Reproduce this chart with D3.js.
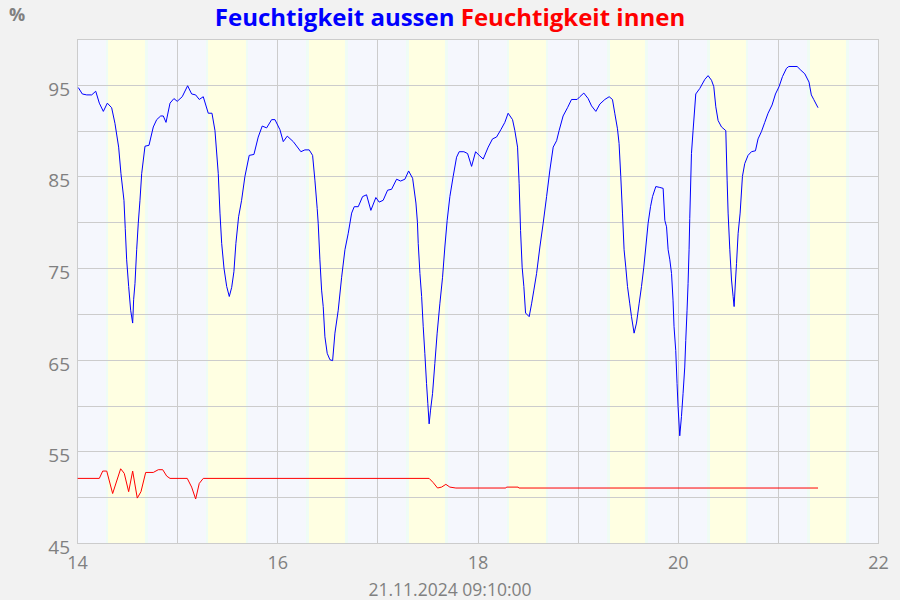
<!DOCTYPE html>
<html><head><meta charset="utf-8">
<script src="https://cdn.jsdelivr.net/npm/d3@7/dist/d3.min.js"></script>
<style>body{margin:0;background:#f2f2f2}svg{display:block}</style>
</head><body><svg id="c" width="900" height="600"></svg>
<script>
// ---- data (day of month as decimal, humidity %) ----
const outT = [14.013,14.053,14.097,14.147,14.187,14.223,14.263,14.303,14.346,14.379,14.416,14.439,14.469,14.482,14.496,14.516,14.536,14.556,14.566,14.579,14.596,14.612,14.629,14.646,14.679,14.719,14.762,14.796,14.836,14.862,14.889,14.929,14.968,15.001,15.051,15.105,15.145,15.185,15.221,15.261,15.311,15.348,15.378,15.411,15.428,15.445,15.468,15.495,15.521,15.545,15.567,15.587,15.614,15.644,15.677,15.720,15.767,15.810,15.850,15.894,15.944,15.977,16.027,16.060,16.100,16.160,16.236,16.276,16.319,16.353,16.376,16.399,16.409,16.426,16.443,16.459,16.476,16.499,16.526,16.553,16.576,16.609,16.643,16.676,16.709,16.743,16.769,16.809,16.852,16.892,16.935,16.985,17.018,17.058,17.102,17.142,17.192,17.232,17.275,17.312,17.352,17.385,17.400,17.408,17.425,17.442,17.458,17.474,17.491,17.504,17.517,17.531,17.551,17.574,17.597,17.624,17.651,17.674,17.697,17.724,17.757,17.791,17.817,17.864,17.901,17.941,17.981,18.017,18.057,18.107,18.150,18.190,18.233,18.273,18.306,18.350,18.373,18.400,18.416,18.430,18.446,18.463,18.480,18.516,18.540,18.563,18.590,18.623,18.656,18.690,18.723,18.756,18.790,18.815,18.855,18.899,18.939,18.995,19.022,19.062,19.105,19.139,19.182,19.222,19.272,19.315,19.348,19.371,19.398,19.414,19.431,19.448,19.464,19.481,19.498,19.521,19.538,19.564,19.588,19.614,19.638,19.661,19.681,19.704,19.728,19.748,19.781,19.821,19.854,19.871,19.888,19.904,19.921,19.938,19.953,19.963,19.980,19.993,20.003,20.020,20.037,20.053,20.070,20.080,20.093,20.103,20.113,20.120,20.137,20.153,20.180,20.220,20.271,20.303,20.337,20.360,20.380,20.403,20.437,20.480,20.493,20.503,20.520,20.537,20.553,20.563,20.577,20.587,20.603,20.623,20.646,20.669,20.702,20.736,20.776,20.802,20.836,20.869,20.902,20.942,20.976,21.012,21.046,21.086,21.109,21.192,21.229,21.269,21.311,21.334,21.358,21.401];
const outH = [94.7,94.0,93.9,93.9,94.3,93.0,92.1,93.0,92.5,90.8,88.2,85.3,82.4,79.3,75.9,73.0,70.4,69.0,71.6,73.3,77.0,79.9,82.4,85.3,88.3,88.4,90.4,91.2,91.6,91.6,90.9,93.0,93.5,93.2,93.7,94.9,94.0,93.9,93.4,93.7,91.9,91.9,90.0,85.3,81.0,77.7,75.0,73.0,71.9,72.9,74.6,77.7,80.6,82.4,85.0,87.3,87.4,89.3,90.5,90.3,91.2,91.2,90.1,88.8,89.4,88.8,87.7,87.9,87.9,87.3,84.6,81.5,79.9,75.9,72.6,70.8,67.5,65.7,65.0,64.9,67.9,70.4,74.0,77.0,78.8,81.0,81.7,81.7,82.8,83.0,81.3,82.7,82.2,82.4,83.5,83.6,84.7,84.5,84.7,85.6,84.8,82.1,80.0,77.7,74.4,71.9,68.6,65.7,62.4,60.2,58.0,59.5,61.3,64.6,67.9,71.1,74.0,77.3,80.2,82.8,85.0,87.1,87.7,87.7,87.5,86.1,87.7,87.3,86.9,88.2,89.1,89.3,90.1,90.9,91.9,91.2,90.0,88.2,84.2,79.1,75.1,73.0,70.1,69.7,71.1,72.6,74.4,77.3,79.9,82.8,85.7,88.2,88.9,90.0,91.6,92.5,93.4,93.4,93.7,94.1,93.5,92.7,92.1,92.9,93.4,93.7,93.4,91.9,90.2,88.6,85.0,81.0,77.0,75.1,73.0,71.1,69.7,67.9,69.0,71.1,73.0,75.1,77.3,79.9,81.7,82.8,83.9,83.8,83.7,80.2,79.5,77.0,75.9,74.4,71.5,68.6,66.0,62.4,59.9,56.7,58.8,61.3,64.2,67.1,70.4,73.3,77.0,80.4,87.5,90.0,94.0,94.6,95.6,96.0,95.5,94.8,92.6,91.1,90.4,90.0,84.6,81.0,77.0,73.7,71.9,70.8,73.7,75.5,78.8,81.0,85.0,86.4,87.3,87.7,87.8,89.1,89.9,90.9,91.9,92.8,94.0,94.8,95.9,96.8,97.0,97.0,96.6,96.2,95.3,93.9,93.4,92.5];
const inT = [14.007,14.223,14.257,14.297,14.356,14.436,14.472,14.516,14.556,14.602,14.639,14.686,14.762,14.812,14.856,14.896,14.929,15.101,15.145,15.185,15.221,15.261,17.517,17.557,17.601,17.641,17.684,17.724,17.784,18.283,18.290,18.406,18.413,21.401];
const inH = [52.05,52.05,52.85,52.85,50.4,53.1,52.6,50.6,52.85,49.9,50.6,52.7,52.7,53.0,53.0,52.3,52.05,52.05,51.1,49.8,51.5,52.05,52.05,51.6,51.0,51.1,51.4,51.1,51.0,51.0,51.1,51.1,51.0,51.0];
const sunrise = [14.31,15.31,16.315,17.315,18.315,19.32,20.32,21.32];
const sunset  = [14.683,15.683,16.68,17.68,18.68,19.675,20.68,21.683];
const dayGrid = [14,15,16,17,18,19,20,21,22];
const xTicks = [14,16,18,20,22];
const yGrid = [50,55,60,65,70,75,80,85,90,95];
const yTicks = [45,55,65,75,85,95];
const titles = ["Feuchtigkeit aussen","Feuchtigkeit innen"];
const seriesColors = ["#0000ff","#ff0000"];
const unitLabel = "%";
const dateLabel = "21.11.2024 09:10:00";

// ---- chart ----
const svg = d3.select("#c");
const L=77, R=878, T=39, B=543;
const x = d3.scaleLinear().domain([14,22]).range([L,R]);
const y = d3.scaleLinear().domain([45,100]).range([B,T]);

svg.append("rect").attr("x",L).attr("y",T).attr("width",R-L).attr("height",B-T).attr("fill","#f5f7fd");
const tw = 0.025;
const bands = svg.append("g").attr("shape-rendering","crispEdges");
sunrise.forEach((s,i)=>{
  const e = sunset[i];
  bands.append("rect").attr("x",x(s-tw)).attr("y",T).attr("width",x(e+tw)-x(s-tw)).attr("height",B-T).attr("fill","#effcf5");
  bands.append("rect").attr("x",x(s)).attr("y",T).attr("width",x(e)-x(s)).attr("height",B-T).attr("fill","#ffffe2");
});

const grid = svg.append("g").attr("shape-rendering","crispEdges").attr("stroke","#cccccc").attr("stroke-width",1);
yGrid.forEach(v=>grid.append("line").attr("x1",L).attr("x2",R).attr("y1",Math.round(y(v))+0.5).attr("y2",Math.round(y(v))+0.5));
dayGrid.forEach(v=>grid.append("line").attr("y1",T).attr("y2",B).attr("x1",Math.round(x(v))+0.5).attr("x2",Math.round(x(v))+0.5));
grid.append("rect").attr("x",L+0.5).attr("y",T+0.5).attr("width",R-L).attr("height",B-T).attr("fill","none");

const line = d3.line().x(d=>x(d[0])).y(d=>y(d[1]));
svg.append("path").datum(inT.map((t,i)=>[t,inH[i]])).attr("d",line).attr("fill","none").attr("stroke",seriesColors[1]).attr("stroke-width",1);
svg.append("path").datum(outT.map((t,i)=>[t,outH[i]])).attr("d",line).attr("fill","none").attr("stroke",seriesColors[0]).attr("stroke-width",1);

// axes (labels only)
const yAxis = d3.axisLeft(y).tickValues(yTicks).tickSize(0).tickPadding(7).tickFormat(d3.format("d"));
const gy = svg.append("g").attr("transform",`translate(${L},0)`).call(yAxis);
gy.select(".domain").remove();
gy.selectAll("text").attr("font-family","'Open Sans'").attr("font-size",19).attr("fill","#808080").attr("dy","0.55em");

const xAxis = d3.axisBottom(x).tickValues(xTicks).tickSize(0).tickPadding(13).tickFormat(d3.format("d"));
const gx = svg.append("g").attr("transform",`translate(0,${B})`).call(xAxis);
gx.select(".domain").remove();
gx.selectAll("text").attr("font-family","'Open Sans'").attr("font-size",18).attr("fill","#808080");

svg.append("text").attr("x",450).attr("y",596).attr("text-anchor","middle").attr("font-family","'Open Sans'").attr("font-size",17.5).attr("fill","#808080").text(dateLabel);
svg.append("text").attr("x",9).attr("y",21).attr("font-family","'Open Sans'").attr("font-weight","bold").attr("font-size",18).attr("fill","#808080").text(unitLabel);

const t = svg.append("text").attr("x",450).attr("y",26).attr("text-anchor","middle").attr("font-family","'Open Sans'").attr("font-weight","bold").attr("font-size",24);
t.append("tspan").attr("fill",seriesColors[0]).text(titles[0]+" ");
t.append("tspan").attr("fill",seriesColors[1]).text(titles[1]);
</script></body></html>
